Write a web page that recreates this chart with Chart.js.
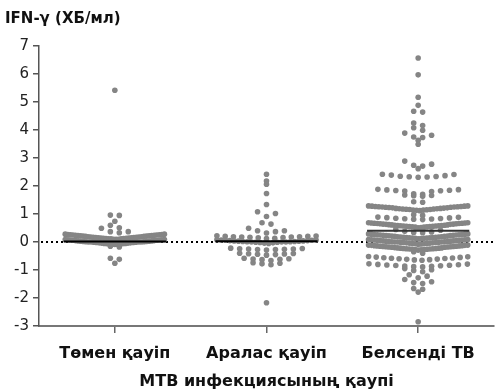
<!DOCTYPE html>
<html lang="kk">
<head>
  <meta charset="UTF-8" />
  <title>IFN-γ</title>
  <script src="https://cdn.jsdelivr.net/npm/chart.js"></script>
  <style>
    * { margin: 0; padding: 0; box-sizing: border-box; }
    body { background: #fff; width: 498px; height: 391px; overflow: hidden; }
    canvas { display: block; }
  </style>
</head>
<body>
  <canvas id="grafico" width="498" height="391"></canvas>

<script>
  // категориялар мен мәндер (суреттен оқылған)
  const categories = ["Төмен қауіп", "Аралас қауіп", "Белсенді ТВ"];

  const lowRisk = [
    5.42,
    0.96, 0.95, 0.74, 0.6, 0.51, 0.49, 0.37, 0.37, 0.33,
    0.28, 0.28, 0.27, 0.27, 0.26, 0.26, 0.25, 0.25, 0.24, 0.24,
    0.23, 0.23, 0.22, 0.22, 0.21, 0.21, 0.2, 0.2, 0.19, 0.19,
    0.18, 0.18, 0.17, 0.17, 0.16, 0.16, 0.15, 0.15, 0.14, 0.14,
    0.13, 0.13, 0.12, 0.12, 0.11, 0.11, 0.11, 0.1, 0.1, 0.1,
    0.09, 0.09, 0.08, 0.08, 0.07, 0.07, 0.06, 0.06, 0.05, 0.05,
    0.04, 0.04, 0.03, 0.03, 0.02, 0.02, 0.01, 0.01, 0, 0, 0, 0,
    -0.01, -0.01, -0.02, -0.02, -0.03, -0.03, -0.04, -0.04, -0.05,
    -0.05, -0.06, -0.06, -0.07, -0.07, -0.08, -0.08, -0.09,
    -0.15, -0.18,
    -0.58, -0.62, -0.76
  ];

  const mixedRisk = [
    2.42, 2.18, 2.06, 1.73, 1.34, 1.08, 1.02, 0.91, 0.69, 0.64,
    0.49, 0.4, 0.4, 0.37, 0.32,
    0.22, 0.21, 0.2, 0.2, 0.19, 0.19, 0.18, 0.18, 0.17, 0.16, 0.15, 0.13, 0.12,
    0.08, 0.07, 0.07, 0.06, 0.06, 0.05, 0.05, 0.04, 0.04, 0.03, 0.03, 0.02,
    0.02, 0.01, 0.01, 0, 0, 0, -0.01, -0.01, -0.02, -0.03, -0.04, -0.05,
    -0.22, -0.23, -0.24, -0.25, -0.25, -0.26, -0.27, -0.27, -0.29,
    -0.4, -0.41, -0.42, -0.43, -0.44, -0.45, -0.47,
    -0.58, -0.6, -0.61, -0.62, -0.63, -0.66,
    -0.74, -0.76, -0.78, -0.81,
    -2.17
  ];

  const activeTb = [
    6.57, 5.97, 5.17, 4.88, 4.67, 4.64, 4.25, 4.16, 4.08, 3.99,
    3.89, 3.81, 3.75, 3.73, 3.63, 3.49,
    2.89, 2.78, 2.74, 2.71, 2.62,
    2.42, 2.41, 2.39, 2.37, 2.35, 2.34, 2.33, 2.32, 2.31,
    1.88, 1.87, 1.86, 1.85, 1.84, 1.83, 1.82, 1.8,
    1.72, 1.7, 1.68, 1.66, 1.65, 1.63,
    1.44, 1.42,
    1.29, 1.29, 1.28, 1.28, 1.27, 1.27, 1.26, 1.26, 1.25, 1.25,
    1.24, 1.24, 1.23, 1.22, 1.22, 1.21, 1.2, 1.2, 1.19, 1.19,
    1.18, 1.18, 1.17, 1.16, 1.16, 1.15, 1.14, 1.14, 1.13, 1.12,
    0.97, 0.95,
    0.89, 0.88, 0.87, 0.86, 0.85, 0.84, 0.83, 0.82, 0.81, 0.8,
    0.69, 0.69, 0.68, 0.68, 0.67, 0.67, 0.66, 0.66, 0.65, 0.65,
    0.64, 0.64, 0.63, 0.63, 0.62, 0.61, 0.61, 0.6, 0.6, 0.59,
    0.59, 0.58, 0.58, 0.57, 0.57, 0.56, 0.56, 0.55, 0.55, 0.54,
    0.54, 0.53, 0.53, 0.52, 0.51,
    0.45, 0.42, 0.38, 0.36, 0.34, 0.33,
    0.29, 0.29, 0.28, 0.28, 0.27, 0.27, 0.26, 0.26, 0.25, 0.25,
    0.24, 0.24, 0.23, 0.23, 0.22, 0.21, 0.21, 0.2, 0.2, 0.19,
    0.19, 0.18, 0.18, 0.17, 0.17, 0.16, 0.16, 0.15, 0.15, 0.14,
    0.14, 0.13, 0.13, 0.12, 0.11,
    0.09, 0.09, 0.08, 0.08, 0.07, 0.07, 0.06, 0.06, 0.05, 0.05,
    0.04, 0.04, 0.03, 0.03, 0.02, 0.02, 0.01, 0.01, 0, 0,
    0, -0.01, -0.01, -0.02, -0.02, -0.03, -0.03, -0.04, -0.04, -0.05,
    -0.05, -0.06, -0.06, -0.07, -0.08,
    -0.11, -0.11, -0.12, -0.12, -0.13, -0.13, -0.14, -0.14, -0.15, -0.15,
    -0.16, -0.16, -0.17, -0.17, -0.18, -0.18, -0.19, -0.19, -0.2, -0.21,
    -0.21, -0.22, -0.22, -0.23, -0.23, -0.24, -0.24, -0.25, -0.25, -0.26,
    -0.26, -0.27, -0.27, -0.28, -0.29,
    -0.35, -0.4,
    -0.52, -0.53, -0.54, -0.55, -0.56, -0.57, -0.58, -0.59, -0.6, -0.61,
    -0.62, -0.63, -0.64, -0.65,
    -0.78, -0.79, -0.8, -0.81, -0.82, -0.83, -0.84, -0.85, -0.86, -0.87,
    -0.88, -0.89,
    -0.95, -0.99, -1.02, -1.06,
    -1.17, -1.22, -1.28,
    -1.34, -1.42, -1.45, -1.48,
    -1.66, -1.69, -1.79,
    -2.85
  ];

  const groups = [lowRisk, mixedRisk, activeTb];
  const medians = [0.02, 0.03, 0.4];
  const yMin = -3;
  const yMax = 7;

  // Prism сияқты қатарлап орналастыру
  const BIN = 0.2;      // қатар биіктігі (мән бірлігі)
  const STEP = 0.059;   // нүктелер арасы (категория бірлігі)
  const HALF = 0.327;   // қатардың жарты ені

  function swarmPoints(values, center) {
    const rows = new Map();
    values.forEach(v => {
      const k = Math.round(v / BIN);
      if (!rows.has(k)) rows.set(k, []);
      rows.get(k).push(v);
    });
    const pts = [];
    rows.forEach(row => {
      row.sort((a, b) => a - b);
      const n = row.length;
      const step = n > 1 ? Math.min(STEP, 2 * HALF / (n - 1)) : 0;
      row.forEach((v, i) => {
        let slot;
        if (n % 2) slot = i === 0 ? 0 : Math.ceil(i / 2) * (i % 2 ? 1 : -1);
        else slot = (Math.floor(i / 2) + 0.5) * (i % 2 ? -1 : 1);
        pts.push({ x: center + slot * step, y: v });
      });
    });
    return pts;
  }

  const datasets = [];
  medians.forEach((m, i) => {
    datasets.push({
      type: "line",
      data: [{ x: i + 1 - 0.337, y: m }, { x: i + 1 + 0.337, y: m }],
      borderColor: i === 2 ? "#333" : "#000",
      borderWidth: 2,
      pointRadius: 0,
      order: 0,
    });
  });
  groups.forEach((g, i) => {
    datasets.push({
      type: "scatter",
      data: swarmPoints(g, i + 1),
      backgroundColor: "#858585",
      borderWidth: 0,
      pointRadius: 2.8,
      order: 1,
    });
  });

  const zeroLine = {
    id: "zeroLine",
    beforeDatasetsDraw(chart) {
      const { ctx, chartArea, scales } = chart;
      const y = scales.y.getPixelForValue(0);
      ctx.save();
      ctx.strokeStyle = "#000";
      ctx.lineWidth = 2;
      ctx.setLineDash([2, 3]);
      ctx.beginPath();
      ctx.moveTo(chartArea.left + 2, y);
      ctx.lineTo(chartArea.right, y);
      ctx.stroke();
      ctx.restore();
    },
  };

  const boldFont = "'DejaVu Sans', sans-serif";

  new Chart(document.getElementById("grafico"), {
    type: "scatter",
    data: { datasets: datasets },
    plugins: [zeroLine],
    options: {
      responsive: false,
      animation: false,
      layout: { padding: { left: 5, right: 0, top: 0, bottom: 0 } },
      plugins: {
        legend: { display: false },
        tooltip: { enabled: false },
        title: {
          display: true,
          text: "IFN-γ (ХБ/мл)",
          align: "start",
          color: "#111",
          font: { family: boldFont, size: 15, weight: "bold" },
          padding: { top: 10, bottom: 18 },
        },
      },
      scales: {
        x: {
          type: "linear",
          min: 0.5,
          max: 3.5,
          afterBuildTicks: s => { s.ticks = categories.map((c, i) => ({ value: i + 1 })); },
          afterFit: s => { s.height = 65; },
          ticks: {
            callback: v => categories[v - 1],
            color: "#111",
            font: { family: boldFont, size: 16, weight: "bold" },
            padding: 11,
            maxRotation: 0,
            autoSkip: false,
          },
          grid: { drawOnChartArea: false, tickLength: 7, color: "#666", lineWidth: 1.5 },
          border: { color: "#777", width: 2 },
          title: {
            display: true,
            text: "МТВ инфекциясының қаупі",
            color: "#111",
            font: { family: boldFont, size: 16, weight: "bold" },
            padding: { top: 6, bottom: 0 },
          },
        },
        y: {
          min: yMin,
          max: yMax,
          afterFit: s => { s.width = 34; },
          ticks: {
            stepSize: 1,
            color: "#222",
            font: { family: "'DejaVu Sans', sans-serif", size: 15 },
            padding: 4,
          },
          grid: { drawOnChartArea: false, tickLength: 6, color: "#555", lineWidth: 1.5 },
          border: { color: "#555", width: 1.5 },
        },
      },
    },
  });
</script>
</body>
</html>
